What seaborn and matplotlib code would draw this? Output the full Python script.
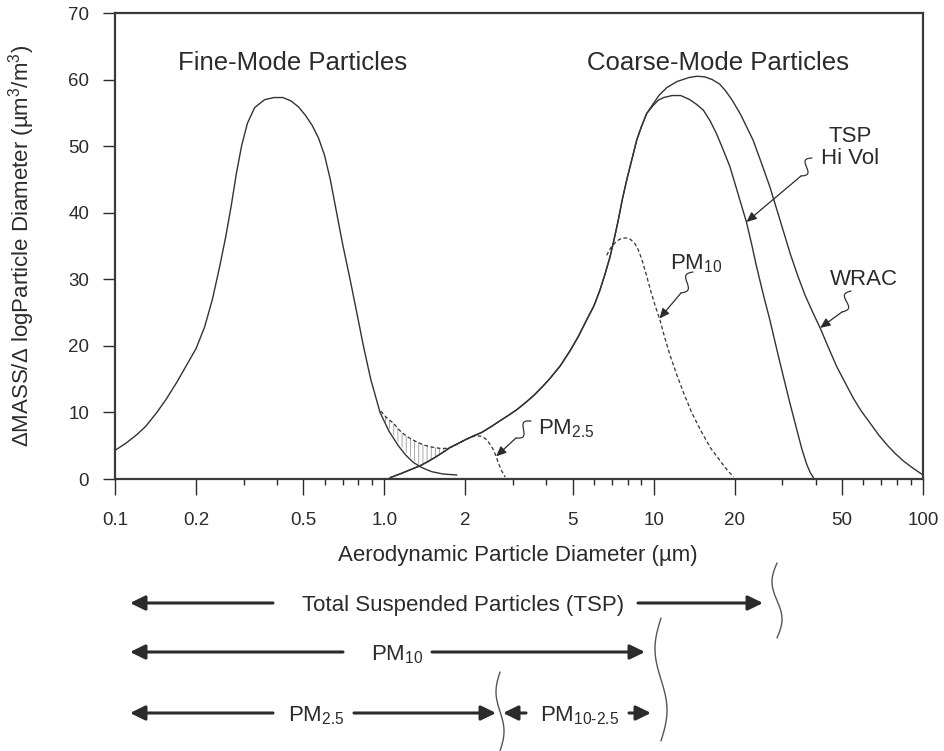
import numpy as np
import matplotlib
matplotlib.use('Agg')
import matplotlib.pyplot as plt
import seaborn as sns
from matplotlib.lines import Line2D
from matplotlib.patches import FancyArrowPatch
from matplotlib.ticker import FixedLocator, NullFormatter


# =============================================================================
# Data (mass distribution vs. aerodynamic diameter)
# =============================================================================

fine_x = [0.1, 0.11, 0.12, 0.13, 0.143, 0.155, 0.17, 0.185, 0.2, 0.215, 0.23,
          0.245, 0.258, 0.27, 0.282, 0.295, 0.31, 0.33, 0.36, 0.39, 0.42,
          0.45, 0.48, 0.51, 0.54, 0.57, 0.6, 0.63, 0.665, 0.7, 0.746, 0.79,
          0.836, 0.89, 0.964, 1.04, 1.127, 1.2, 1.28, 1.38, 1.5, 1.65, 1.86]
fine_y = [4.3, 5.4, 6.6, 7.9, 10.0, 12.0, 14.6, 17.2, 19.6, 22.8, 27.0,
          32.0, 36.5, 41.0, 45.8, 50.0, 53.4, 55.8, 57.0, 57.3, 57.3,
          56.8, 55.9, 54.6, 53.1, 51.2, 48.6, 45.0, 40.0, 35.3, 30.0, 25.0,
          20.0, 15.0, 10.0, 7.2, 5.0, 3.6, 2.5, 1.7, 1.1, 0.75, 0.6]

# rising limb shared by the TSP and WRAC curves
coarse_x = [1.05, 1.15, 1.25, 1.36, 1.45, 1.55, 1.65, 1.75, 1.87, 2.0, 2.15,
            2.3, 2.5, 2.7, 2.9, 3.1, 3.35, 3.6, 3.85, 4.1, 4.5, 4.9, 5.25,
            5.64, 6.0, 6.32, 6.6, 6.89, 7.13, 7.39, 7.65, 7.94, 8.3, 8.65,
            9.0, 9.42]
coarse_y = [0.2, 0.8, 1.4, 2.0, 2.6, 3.3, 4.0, 4.7, 5.3, 5.9, 6.5,
            7.0, 7.9, 8.8, 9.6, 10.4, 11.5, 12.6, 13.8, 15.0, 17.0, 19.3, 21.4,
            23.9, 26.0, 28.4, 30.8, 33.4, 36.0, 38.9, 42.0, 44.9, 48.0, 50.9,
            52.9, 54.9]

tsp_x = [9.9, 10.4, 10.9, 11.7, 12.6, 13.6, 14.4, 15.3, 16.2, 17.1, 18.1,
         19.2, 20.0, 20.9, 22.1, 23.1, 24.1, 25.5, 27.0, 28.6, 30.3, 32.1,
         34.0, 35.5, 37.0, 38.2, 39.2]
tsp_y = [56.0, 56.9, 57.3, 57.6, 57.6, 57.0, 56.3, 55.4, 53.8, 51.9, 49.5,
         46.9, 44.5, 41.9, 38.6, 35.3, 31.9, 27.8, 23.9, 19.6, 15.4, 11.3,
         7.4, 4.5, 2.2, 0.9, 0.2]

wrac_x = [9.9, 10.5, 11.2, 12.2, 13.5, 14.5, 15.5, 16.5, 17.6, 18.5, 19.5,
          21.0, 22.2, 23.4, 25.0, 27.0, 29.5, 32.1, 34.3, 36.5, 39.0, 41.5,
          44.5, 47.8, 51.5, 55.0, 59.0, 63.6, 68.5, 74.0, 79.0, 84.6, 92.0, 100]
wrac_y = [56.2, 57.7, 58.8, 59.7, 60.3, 60.5, 60.4, 60.0, 59.3, 58.3, 57.0,
          54.8, 52.8, 50.9, 47.7, 43.9, 38.8, 33.9, 30.5, 27.6, 25.0, 22.7,
          19.8, 16.9, 14.4, 12.2, 10.2, 8.4, 6.6, 5.0, 3.8, 2.7, 1.6, 0.6]

pm10_x = [6.69, 6.85, 7.0, 7.2, 7.4, 7.65, 7.94, 8.2, 8.5, 8.75, 9.0, 9.3,
          9.7, 10.1, 10.6, 11.0, 11.5, 12.2, 12.9, 13.8, 14.9, 16.3, 17.6,
          18.7, 19.8]
pm10_y = [33.6, 34.4, 35.0, 35.5, 35.9, 36.2, 36.2, 36.0, 35.4, 34.5, 33.2, 31.3,
          28.6, 26.2, 23.6, 21.2, 18.6, 15.6, 13.0, 10.1, 7.4, 4.6, 2.8,
          1.4, 0.3]

pm25_x = [0.97, 1.02, 1.08, 1.14, 1.21, 1.3, 1.40, 1.5, 1.61, 1.7, 1.80, 1.9,
          2.0, 2.1, 2.2, 2.3, 2.40, 2.47, 2.54, 2.6, 2.65, 2.72, 2.81]
pm25_y = [10.2, 9.2, 8.4, 7.3, 6.4, 5.7, 5.1, 4.8, 4.6, 4.6, 4.9, 5.4,
          5.9, 6.3, 6.5, 6.4, 5.9, 5.2, 4.4, 3.4, 2.4, 1.3, 0.3]

hatch_x = [0.97, 1.02, 1.08, 1.14, 1.21, 1.3, 1.36, 1.45, 1.55, 1.65, 1.76]
hatch_top = [10.2, 9.2, 8.4, 7.3, 6.4, 5.7, 5.3, 5.0, 4.7, 4.6, 4.75]
hatch_bottom = [10.2, 8.2, 6.6, 5.2, 3.9, 2.6, 2.0, 2.6, 3.3, 4.0, 4.75]

xticks = [0.1, 0.2, 0.5, 1, 2, 5, 10, 20, 50, 100]
xtick_labels = ['0.1', '0.2', '0.5', '1.0', '2', '5', '10', '20', '50', '100']
xminor = [0.3, 0.4, 0.6, 0.7, 0.8, 0.9, 3, 4, 6, 7, 8, 9, 30, 40, 60, 70, 80, 90]
yticks = [0, 10, 20, 30, 40, 50, 60, 70]


# =============================================================================
# Style
# =============================================================================

sns.set_theme(style='ticks')
plt.rcParams['font.family'] = ['Liberation Sans', 'DejaVu Sans']
plt.rcParams['mathtext.fontset'] = 'custom'
plt.rcParams['mathtext.rm'] = 'Liberation Sans'
plt.rcParams['mathtext.it'] = 'Liberation Sans'
plt.rcParams['mathtext.default'] = 'regular'
plt.rcParams['hatch.color'] = '#9a9a9a'
plt.rcParams['hatch.linewidth'] = 0.6

ink = '#2b2b2b'
line = '#333333'
W, H = 945, 751


def fxy(px, py):
    # figure pixels measured from the top-left corner -> figure fraction
    return px / W, 1 - py / H


fig = plt.figure(figsize=(W / 100, H / 100), dpi=100)
ax = fig.add_axes([115 / W, 1 - 479 / H, 808 / W, 466 / H])


# =============================================================================
# Curves
# =============================================================================

curve_kw = dict(ax=ax, color=line, sort=False, estimator=None)
sns.lineplot(x=fine_x, y=fine_y, lw=1.0, **curve_kw)
sns.lineplot(x=coarse_x + tsp_x, y=coarse_y + tsp_y, lw=1.0, **curve_kw)
sns.lineplot(x=coarse_x + wrac_x, y=coarse_y + wrac_y, lw=1.0, **curve_kw)
sns.lineplot(x=pm10_x, y=pm10_y, lw=0.9, linestyle=(0, (3, 2)), **curve_kw)
sns.lineplot(x=pm25_x, y=pm25_y, lw=0.9, linestyle=(0, (3, 2)), **curve_kw)

ax.fill_between(hatch_x, hatch_bottom, hatch_top, facecolor='none',
                edgecolor='#9a9a9a', hatch='||||', lw=0)

ax.set_xscale('log')
ax.set_xlim(0.1, 100)
ax.set_ylim(0, 70)
ax.xaxis.set_major_locator(FixedLocator(xticks))
ax.set_xticklabels(xtick_labels)
ax.xaxis.set_minor_locator(FixedLocator(xminor))
ax.xaxis.set_minor_formatter(NullFormatter())
ax.set_yticks(yticks)

ax.tick_params(axis='x', which='major', length=11.5, width=1.0, pad=12,
               labelsize=13.5, colors=ink, direction='out')
ax.tick_params(axis='x', which='minor', length=4.5, width=1.0, colors=ink,
               direction='out')
ax.tick_params(axis='y', length=8.6, width=1.0, pad=10, labelsize=13.5,
               colors=ink, direction='out')
for s in ax.spines.values():
    s.set_linewidth(1.6)
    s.set_color('#3a3a3a')

ax.set_xlabel('Aerodynamic Particle Diameter (µm)', fontsize=16, color=ink)
ax.xaxis.set_label_coords(0.4988, -0.1416)
ax.set_ylabel('ΔMASS/Δ logParticle Diameter (µm$^3$/m$^3$)', fontsize=16, color=ink)
ax.yaxis.set_label_coords(-0.0965, 0.501)


# =============================================================================
# Labels inside the plot
# =============================================================================

ax.text(0.458, 62.5, 'Fine-Mode Particles', fontsize=18.5, color=ink,
        ha='center', va='center')
ax.text(17.3, 62.5, 'Coarse-Mode Particles', fontsize=18.5, color=ink,
        ha='center', va='center')
ax.text(53.6, 49.8, 'TSP\nHi Vol', fontsize=16, color=ink, ha='center',
        va='center', linespacing=1.05)
ax.text(60.4, 29.9, 'WRAC', fontsize=16, color=ink, ha='center', va='center')
ax.text(11.5, 32.3, 'PM$_{10}$', fontsize=16, color=ink, ha='left', va='center')
ax.text(3.72, 7.6, 'PM$_{2.5}$', fontsize=16, color=ink, ha='left', va='center')


def wiggle(p0, p1, amp=4.0, turns=1.0, lw=0.9, color=line):
    t = np.linspace(0, 1, 50)
    x0, y0 = p0
    x1, y1 = p1
    dx, dy = x1 - x0, y1 - y0
    L = np.hypot(dx, dy)
    nx, ny = -dy / L, dx / L
    s = amp * np.sin(2 * np.pi * turns * t)
    xs = x0 + dx * t + nx * s
    ys = y0 + dy * t + ny * s
    fig.add_artist(Line2D(xs / W, 1 - ys / H, transform=fig.transFigure,
                          color=color, lw=lw, solid_capstyle='round'))


# leader: squiggle start, squiggle end (figure px), arrow target (data)
leaders = [
    ((812, 158), (801, 176), (22.1, 38.6)),
    ((851, 291), (842, 312), (41.5, 22.7)),
    ((693, 272), (681, 293), (10.5, 24.1)),
    ((531, 421), (516, 438), (2.6, 3.4)),
]
for p0, p1, target in leaders:
    wiggle(p0, p1, amp=4.5)
    ax.annotate('', xy=target, xycoords='data', xytext=fxy(*p1),
                textcoords='figure fraction',
                arrowprops=dict(arrowstyle='-|>,head_length=0.5,head_width=0.22',
                                mutation_scale=12, lw=0.9, color=ink,
                                shrinkA=0, shrinkB=0))


# =============================================================================
# Size-range arrows below the axis
# =============================================================================

def harrow(x_from, x_to, y):
    fig.add_artist(FancyArrowPatch(fxy(x_from, y), fxy(x_to, y),
                                   transform=fig.transFigure,
                                   arrowstyle='-|>,head_length=0.45,head_width=0.22',
                                   mutation_scale=20, lw=2.2, color=ink,
                                   shrinkA=0, shrinkB=0))


def row_text(cx, y, s):
    fig.text(*fxy(cx, y + 8), s, fontsize=16, color=ink, ha='center', va='baseline')


harrow(273, 130, 603)
row_text(463, 603, 'Total Suspended Particles (TSP)')
harrow(638, 763, 603)

harrow(343, 130, 652)
row_text(397, 652, 'PM$_{10}$')
harrow(432, 645, 652)

harrow(273, 130, 713)
row_text(316, 713, 'PM$_{2.5}$')
harrow(354, 496, 713)
harrow(526, 503, 713)
row_text(580, 713, 'PM$_{10\u20102.5}$')
harrow(629, 651, 713)

wiggle((777, 563), (777, 638), amp=5, lw=1.0, color='#555555')
wiggle((661, 618), (661, 741), amp=6, lw=1.0, color='#555555')
wiggle((500, 672), (500, 751), amp=4, lw=1.0, color='#555555')

fig.savefig('out.png', dpi=100, facecolor='white')
